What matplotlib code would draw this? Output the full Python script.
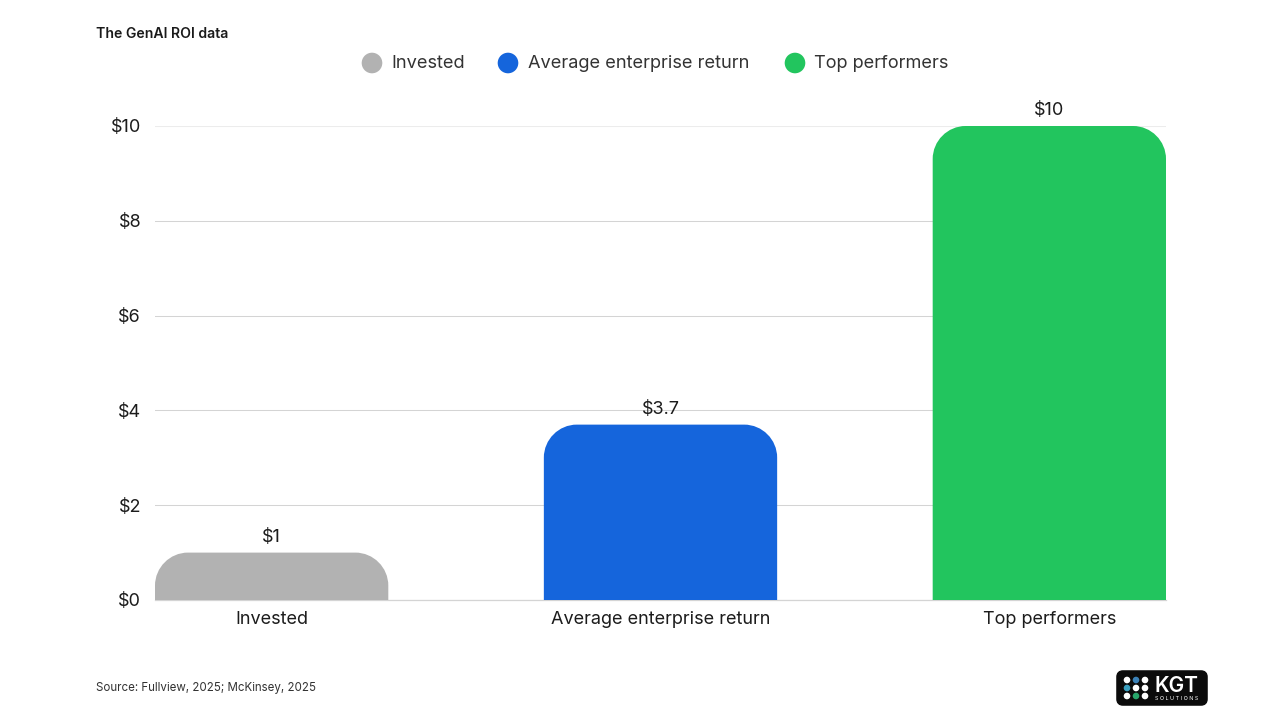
import matplotlib
matplotlib.use('Agg')
import matplotlib.pyplot as plt
from matplotlib.patches import PathPatch, FancyBboxPatch, Circle
from matplotlib.path import Path

plt.rcParams['font.family'] = ['Inter', 'DejaVu Sans']

categories = ['Invested', 'Average enterprise return', 'Top performers']
values = [1, 3.7, 10]
value_labels = ['$1', '$3.7', '$10']
colors = ['#b2b2b2', '#1565dc', '#22c55e']
yticks = [0, 2, 4, 6, 8, 10]
ytick_labels = ['$0', '$2', '$4', '$6', '$8', '$10']

W, H = 1280, 720
fig = plt.figure(figsize=(W / 100, H / 100), dpi=100, facecolor='white')
ax = fig.add_axes([155 / W, 1 - 600 / H, (1166 - 155) / W, (600 - 126) / H])
ax.set_xlim(-0.3, 2.3)
ax.set_ylim(0, 10)
ax.set_facecolor('white')

for s in ['top', 'right', 'left']:
    ax.spines[s].set_visible(False)
ax.spines['bottom'].set_color('#d4d4d4')
ax.spines['bottom'].set_linewidth(0.9)

ax.set_yticks(yticks)
ax.set_yticklabels(ytick_labels)
ax.set_xticks(range(len(categories)))
ax.set_xticklabels(categories)
ax.tick_params(axis='both', length=0, labelsize=13, labelcolor='#1c1c1c')
ax.tick_params(axis='x', pad=8)
ax.tick_params(axis='y', pad=10)
ax.grid(axis='y', color='#d4d4d4', linewidth=0.75)
ax.set_axisbelow(True)
# top gridline is much fainter
ax.get_ygridlines()[-1].set_color('#ececec')

# bars with rounded top corners, radius about 33 px
bar_w = 0.6
rx = 33 / 389
ry = 33 / 47.4
k = 0.45


def rounded_bar(x, h, color):
    l, r = x - bar_w / 2, x + bar_w / 2
    verts = [(l, 0), (l, h - ry),
             (l, h - ry * k), (l + rx * k, h), (l + rx, h),
             (r - rx, h),
             (r - rx * k, h), (r, h - ry * k), (r, h - ry),
             (r, 0), (l, 0)]
    codes = [Path.MOVETO, Path.LINETO,
             Path.CURVE4, Path.CURVE4, Path.CURVE4,
             Path.LINETO,
             Path.CURVE4, Path.CURVE4, Path.CURVE4,
             Path.LINETO, Path.CLOSEPOLY]
    ax.add_patch(PathPatch(Path(verts, codes), facecolor=color, edgecolor='none', zorder=3))


for i, v in enumerate(values):
    rounded_bar(i, v, colors[i])
    ax.annotate(value_labels[i], (i, v), xytext=(0, 5), textcoords='offset points',
                ha='center', va='bottom', fontsize=13, color='#1c1c1c', zorder=4, annotation_clip=False)

# title and source
fig.text(96 / W, 1 - 33.5 / H, 'The GenAI ROI data', fontsize=10.1, fontweight='semibold', color='#1a1a1a', va='center')
fig.text(96 / W, 1 - 688.5 / H, 'Source: Fullview, 2025; McKinsey, 2025', fontsize=8.3, color='#333333', va='center')

# legend drawn by hand to keep the spacing
overlay = fig.add_axes([0, 0, 1, 1], facecolor='none')
overlay.set_xlim(0, W)
overlay.set_ylim(H, 0)
overlay.axis('off')
legend_x = [372, 508, 795]
for x, c, name in zip(legend_x, colors, categories):
    overlay.add_patch(Circle((x, 63), 10.3, facecolor=c, edgecolor='none'))
    overlay.text(x + 19.5, 63, name, fontsize=13.1, color='#333333', va='center', ha='left')

# logo
overlay.add_patch(FancyBboxPatch((1119, 673), 86, 30, boxstyle='round,pad=0,rounding_size=4',
                                 facecolor='#0b0b0b', edgecolor='#0b0b0b', linewidth=4))
dot_x = [1127, 1136, 1145]
dot_y = [680, 688, 696]
dot_colors = [['white', '#3b82b8', 'white'],
              ['#3aa0c0', 'white', 'white'],
              ['white', '#28a56a', 'white']]
for r, y in enumerate(dot_y):
    for c, x in enumerate(dot_x):
        overlay.add_patch(Circle((x, y), 3.3, facecolor=dot_colors[r][c], edgecolor='none'))
overlay.text(1155, 685.5, 'KGT', fontsize=15, fontweight='semibold', color='white', va='center', ha='left')
overlay.text(1155, 698, 'S O L U T I O N S', fontsize=3.9, color='white', va='center', ha='left')

fig.savefig('out.png', dpi=100, facecolor='white')
